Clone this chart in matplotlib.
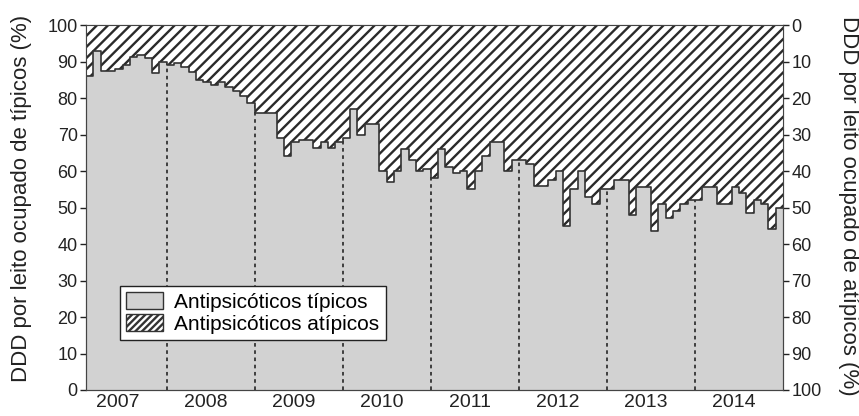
import matplotlib
matplotlib.use("Agg")
import matplotlib.pyplot as plt
from matplotlib.patches import Patch
import numpy as np

plt.rcParams['font.family'] = ['Liberation Sans', 'DejaVu Sans']
plt.rcParams['hatch.linewidth'] = 1.7
plt.rcParams['hatch.color'] = '#2a2a2a'

# Monthly values, Feb 2007 .. Dec 2014 (month index 1 = Feb 2007)
tipicos = [86, 93, 87.5, 87.5, 88, 89, 91.3, 91.8, 91, 86.8, 90,
           89, 89.5, 88.5, 87, 85, 84.5, 83.5, 84.5, 83, 82, 80.5, 78.6,
           76, 76, 76, 69, 64, 68, 68.5, 68.5, 66.3, 68, 66.3, 68,
           69, 77, 70, 73, 73, 60, 57, 60, 66, 63, 60, 60.5,
           58, 66, 61, 59.5, 60, 55, 60, 64, 68, 68, 60, 63,
           63, 62, 56, 56, 57.5, 60, 45, 55, 60, 53, 51, 55,
           55, 57.5, 57.5, 48, 55.5, 55.5, 43.5, 51, 47, 49, 51, 52,
           52, 55.5, 55.5, 51, 51, 55.5, 54, 48.5, 52, 51, 44, 50]
atipicos = [14, 7, 12.5, 12.5, 12, 11, 8.7, 8.2, 9, 13.2, 10,
            11, 10.5, 11.5, 13, 15, 15.5, 16.5, 15.5, 17, 18, 19.5, 21.4,
            24, 24, 24, 31, 36, 32, 31.5, 31.5, 33.7, 32, 33.7, 32,
            31, 23, 30, 27, 27, 40, 43, 40, 34, 37, 40, 39.5,
            42, 34, 39, 40.5, 40, 45, 40, 36, 32, 32, 40, 37,
            37, 38, 44, 44, 42.5, 40, 55, 45, 40, 47, 49, 45,
            45, 42.5, 42.5, 52, 44.5, 44.5, 56.5, 49, 53, 51, 49, 48,
            48, 44.5, 44.5, 49, 49, 44.5, 46, 51.5, 48, 49, 56, 50]
anos = ['2007', '2008', '2009', '2010', '2011', '2012', '2013', '2014']
meses = np.arange(1, len(tipicos) + 1)

gray = '#d2d2d2'
dark = '#2a2a2a'

fig = plt.figure(figsize=(8.59, 4.16), dpi=100)
ax = fig.add_axes([0.1001, 0.0625, 0.8114, 0.8773])
ax2 = ax.twinx()

x = np.append(meses, meses[-1] + 1)
t = np.append(tipicos, tipicos[-1])
a = np.append(atipicos, atipicos[-1])

ax.fill_between(x, 0, t, step='post', facecolor=gray, linewidth=0)
ax2.fill_between(x, 0, a, step='post', facecolor='white', hatch='///',
                 edgecolor=dark, linewidth=0)
ax2.step(x, a, where='post', color='#333333', lw=1.2)

for k in range(1, len(anos)):
    ax.axvline(12 * k, color='#333333', lw=1.3, ls=(0, (2, 2)), zorder=3)

ax.set_xlim(1, meses[-1] + 1)
ax.set_ylim(0, 100)
ax2.set_ylim(100, 0)
ax.set_yticks(range(0, 101, 10))
ax2.set_yticks(range(0, 101, 10))
ax.set_xticks([12 * i + 5.3 for i in range(len(anos))])
ax.set_xticklabels(anos)
ax.tick_params(axis='x', length=0, labelsize=14, pad=3, colors='#222222')
ax.tick_params(axis='y', length=4, width=1, labelsize=13, pad=2,
               colors='#222222', direction='out')
ax2.tick_params(axis='y', length=4, width=1, labelsize=13, pad=2,
                colors='#222222', direction='out')
for s in ax.spines.values():
    s.set_color('#444444')
for s in ax2.spines.values():
    s.set_color('#444444')

fig.text(22 / 859, 1 - 198 / 416, 'DDD por leito ocupado de típicos (%)',
         rotation=90, ha='center', va='center', fontsize=16, color='#222222')
fig.text(848 / 859, 1 - 206 / 416, 'DDD por leito ocupado de atípicos (%)',
         rotation=270, ha='center', va='center', fontsize=16, color='#222222')

handles = [Patch(facecolor=gray, edgecolor='#333333', lw=1),
           Patch(facecolor='white', edgecolor='#333333', hatch='/////', lw=1)]
leg = ax2.legend(handles, ['Antipsicóticos típicos', 'Antipsicóticos atípicos'],
                 loc='lower left', bbox_to_anchor=(0.049, 0.137),
                 fontsize=15, frameon=True, fancybox=False,
                 edgecolor='#222222', framealpha=1, borderpad=0.3,
                 handlelength=1.75, handleheight=0.85, handletextpad=0.55,
                 labelspacing=0.12, borderaxespad=0)
leg.get_frame().set_linewidth(1.0)

fig.savefig('out.png', dpi=100)
